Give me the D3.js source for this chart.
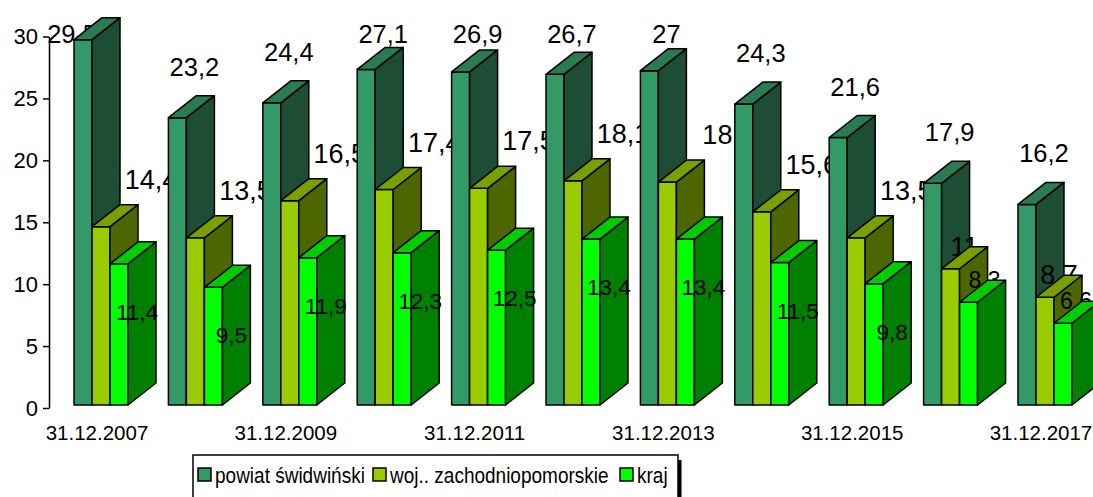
<!DOCTYPE html>
<html>
<head>
<meta charset="utf-8">
<script src="https://cdn.jsdelivr.net/npm/d3@7"></script>
<style>
  body { margin: 0; background: #fff; }
  svg { display: block; font-family: "Liberation Sans", Arial, sans-serif; }
</style>
</head>
<body>
<div id="chart"></div>
<script>
// values
var categories = ["31.12.2007", "31.12.2008", "31.12.2009", "31.12.2010", "31.12.2011",
                  "31.12.2012", "31.12.2013", "31.12.2014", "31.12.2015", "31.12.2016", "31.12.2017"];
var seriesNames = ["powiat świdwiński", "woj.. zachodniopomorskie", "kraj"];
var powiat = [29.5, 23.2, 24.4, 27.1, 26.9, 26.7, 27, 24.3, 21.6, 17.9, 16.2];
var woj    = [14.4, 13.5, 16.5, 17.4, 17.5, 18.1, 18, 15.6, 13.5, 11, 8.7];
var kraj   = [11.4, 9.5, 11.9, 12.3, 12.5, 13.4, 13.4, 11.5, 9.8, 8.3, 6.6];
var yTicks = [0, 5, 10, 15, 20, 25, 30];

// face colours: front, side, top
var colors = [
  { front: "#339966", side: "#1e4d35", top: "#2a7a52" },
  { front: "#99cc00", side: "#4d6600", top: "#7a9f00" },
  { front: "#00ff00", side: "#008000", top: "#00cc00" }
];

function init() {
  var w = 1093, h = 497;
  var dx = 28, dy = 22;    // 3d depth
  var lift = 3;            // bars sit a little above the axis zero

  var svg = d3.select("#chart").append("svg")
    .attr("width", w)
    .attr("height", h);

  var x = d3.scaleBand()
    .domain(categories)
    .range([49, 1097])
    .paddingInner(0.428)
    .paddingOuter(0.265);

  var xs = d3.scaleBand()
    .domain(seriesNames)
    .range([0, x.bandwidth()]);

  var y = d3.scaleLinear()
    .domain([0, 30])
    .range([408, 36.5]);

  var fmt = function(v) { return String(v).replace(".", ","); };

  // y axis
  var yAxis = d3.axisLeft(y).tickValues(yTicks).tickSize(6).tickSizeOuter(0).tickPadding(5);
  var gy = svg.append("g")
    .attr("transform", "translate(49,0)")
    .call(yAxis);
  gy.select(".domain").attr("stroke", "#000").attr("stroke-width", 1.5);
  gy.selectAll(".tick line").attr("stroke", "#000").attr("stroke-width", 1.5);
  gy.selectAll(".tick text")
    .attr("fill", "#000")
    .style("font-size", "22px")
    .style("font-family", "'Liberation Sans', Arial, sans-serif");

  // category labels, every second one
  svg.append("g").selectAll("text")
    .data(categories.filter(function(d, i) { return i % 2 === 0; }))
    .enter().append("text")
    .attr("x", function(d) { return x(d) + x.bandwidth() / 2 - 4; })
    .attr("y", 440)
    .attr("text-anchor", "middle")
    .style("font-size", "20.5px")
    .text(function(d) { return d; });

  function drawBar(g, bx, v, c) {
    var bw = xs.bandwidth();
    var base = y(0) - lift, top = y(v) - lift;
    g.append("rect")
      .attr("x", bx).attr("y", top)
      .attr("width", bw).attr("height", base - top)
      .attr("fill", c.front);
    g.append("path")
      .attr("d", "M" + (bx + bw) + "," + top + "L" + (bx + bw + dx) + "," + (top - dy) +
                 "L" + (bx + bw + dx) + "," + (base - dy) + "L" + (bx + bw) + "," + base + "Z")
      .attr("fill", c.side);
    g.append("path")
      .attr("d", "M" + bx + "," + top + "L" + (bx + dx) + "," + (top - dy) +
                 "L" + (bx + bw + dx) + "," + (top - dy) + "L" + (bx + bw) + "," + top + "Z")
      .attr("fill", c.top);
    g.selectAll("rect, path")
      .attr("stroke", "#000").attr("stroke-width", 1.5).attr("stroke-linejoin", "round");
  }

  function label(g, lx, ly, v, size) {
    var t = g.append("text")
      .attr("x", lx).attr("y", ly)
      .attr("text-anchor", "middle")
      .style("font-size", size + "px")
      .attr("fill", "#000")
      .text(fmt(v));
    // keep it inside the picture
    var bb = t.node().getBBox();
    if (bb.x + bb.width > w - 1) t.attr("x", lx - (bb.x + bb.width - (w - 1)));
  }

  var bars = svg.append("g");

  categories.forEach(function(cat, i) {
    var g = bars.append("g");
    var bw = xs.bandwidth();

    // powiat
    var px = x(cat) + xs(seriesNames[0]);
    var pBack = y(powiat[i]) - lift - dy;
    var pShift = powiat[i] > 28 ? -25 : 3;   // the tallest label is pushed left by the plot edge
    label(g, px + bw / 2 + dx / 2 + pShift, Math.max(43, pBack - 20), powiat[i], 25.5);
    drawBar(g, px, powiat[i], colors[0]);

    // woj
    var wx = x(cat) + xs(seriesNames[1]);
    var wTop = y(woj[i]) - lift;
    if (woj[i] >= 12) {
      label(g, wx + bw / 2 + dx / 2 + 36, wTop - 38, woj[i], 27);
    } else {
      label(g, wx + bw / 2 + dx / 2, wTop - 13, woj[i], 27);
    }
    drawBar(g, wx, woj[i], colors[1]);

    // kraj
    var kx = x(cat) + xs(seriesNames[2]);
    var kTop = y(kraj[i]) - lift;
    if (kraj[i] < 9) {
      label(g, kx + bw / 2 + dx / 2 + 2, kTop - 14, kraj[i], 23);
      drawBar(g, kx, kraj[i], colors[2]);
    } else {
      drawBar(g, kx, kraj[i], colors[2]);
      label(g, kx + bw / 2 + dx / 2 + 4, kTop + 56, kraj[i], 22.5);
    }
  });

  // legend
  var legend = svg.append("g");
  legend.append("rect")
    .attr("x", 678).attr("y", 460)
    .attr("width", 3.5).attr("height", 50)
    .attr("fill", "#000");
  legend.append("rect")
    .attr("x", 193).attr("y", 455)
    .attr("width", 485).attr("height", 60)
    .attr("fill", "#fff")
    .attr("stroke", "#000").attr("stroke-width", 1.5);

  var itemX = [198, 373, 620];
  seriesNames.forEach(function(name, i) {
    legend.append("rect")
      .attr("x", itemX[i]).attr("y", 468)
      .attr("width", 13).attr("height", 13)
      .attr("fill", colors[i].front)
      .attr("stroke", "#000").attr("stroke-width", 1.5);
    // legend text is a bit taller than it is wide in the original
    legend.append("text")
      .attr("transform", "translate(" + (itemX[i] + 17) + ",483) scale(1,1.15)")
      .style("font-size", "19px")
      .text(name);
  });
}

window.onload = init;
</script>
</body>
</html>
